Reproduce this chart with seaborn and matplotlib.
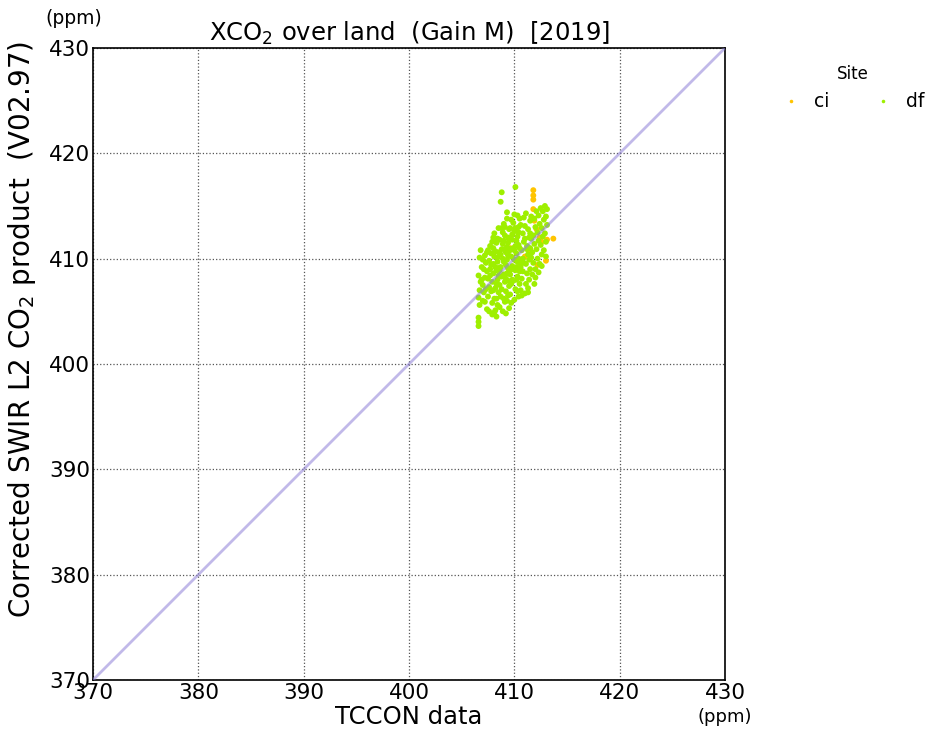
import matplotlib
matplotlib.use("Agg")
import matplotlib.pyplot as plt
import seaborn as sns
import pandas as pd

# ---------------- data ----------------
sites = ["ci", "df"]
site_colors = ["#ffc400", "#9eef00"]

ci_x = [411.8, 411.8, 411.8, 411.8, 411.9, 412.4, 413.1, 413.7, 413.0, 412.1,
        411.5, 412.2, 409.6, 411.0, 412.6]
ci_y = [416.5, 416.0, 415.6, 414.7, 413.6, 412.0, 411.8, 411.9, 409.8, 412.8,
        410.8, 409.4, 411.0, 410.2, 411.6]

df_x = [
    406.6, 406.6, 406.6, 406.7, 406.6, 406.7, 406.8, 406.6, 406.9, 406.7,
    406.8, 407.0, 407.1, 407.0, 407.2, 407.1, 407.3, 407.2, 407.4, 407.3,
    407.4, 407.0, 407.4, 406.9, 407.2,
    407.5, 407.6, 407.5, 407.7, 407.6, 407.8, 407.7, 407.9, 407.8, 407.9,
    408.0, 408.0, 408.1, 408.0, 408.2, 408.1, 408.2, 408.3, 408.2, 408.4,
    408.3, 408.4, 408.5, 408.3, 408.5, 408.4, 408.5, 407.6, 407.9, 408.1,
    407.7, 407.8, 408.0, 408.2, 408.4, 407.5, 408.1, 408.3, 408.5, 408.0,
    407.9, 408.2, 408.4, 408.5, 408.3,
    408.6, 408.7, 408.6, 408.8, 408.7, 408.9, 408.8, 409.0, 408.9, 409.0,
    408.7, 408.8, 409.1, 409.2, 409.1, 409.3, 409.2, 409.4, 409.3, 409.4,
    409.5, 409.3, 409.5, 409.4, 409.5, 408.6, 408.8, 409.0, 409.2, 409.4,
    408.9, 409.1, 409.3, 409.5, 408.7, 409.0, 409.2, 409.4, 408.6, 409.1,
    409.3, 409.5, 408.9, 409.2, 409.0, 409.4, 408.8, 409.5, 409.1, 409.3,
    409.6, 409.7, 409.6, 409.8, 409.7, 409.9, 409.8, 410.0, 409.9, 410.0,
    410.1, 410.1, 410.2, 410.1, 410.3, 410.2, 410.4, 410.3, 410.4, 410.5,
    410.4, 410.5, 410.5, 409.6, 409.8, 410.0, 410.2, 410.4, 409.7, 410.0,
    409.9, 410.3, 410.1, 410.3, 409.6, 410.5, 410.0, 410.2, 409.8, 410.4,
    410.5, 409.7, 409.9, 410.1, 410.3,
    410.6, 410.7, 410.6, 410.8, 410.7, 410.9, 410.8, 411.0, 410.9, 411.1,
    411.2, 411.1, 411.3, 411.2, 411.4, 411.3, 411.5, 411.4, 411.5, 411.6,
    411.5, 411.6, 410.7, 411.0, 411.3, 410.6, 410.9, 411.2, 411.5, 411.0,
    411.4, 410.8, 411.6, 411.1, 411.3,
    411.7, 411.8, 411.7, 411.9, 411.8, 412.0, 411.9, 412.1, 412.0, 412.2,
    412.1, 412.3, 412.2, 412.4, 412.3, 412.5, 412.4, 412.6, 412.5, 412.7,
    412.6, 412.8, 412.7, 412.9, 412.8, 413.0, 412.9, 413.1, 413.0, 413.1,
    412.0, 412.3, 411.9, 412.6, 413.0,
]
df_y = [
    403.6, 404.0, 404.4, 405.6, 406.3, 407.0, 407.8, 408.4, 409.2, 410.1,
    410.8, 406.0, 406.8, 407.5, 408.2, 409.0, 409.6, 410.3, 405.2, 407.1,
    408.8, 409.9, 410.6, 408.0, 405.9,
    406.4, 407.3, 408.1, 409.0, 409.8, 410.5, 411.2, 405.8, 406.9, 407.8,
    408.6, 409.5, 410.2, 411.0, 411.8, 412.4, 405.1, 406.2, 407.2, 408.0,
    408.9, 409.7, 410.6, 411.5, 412.9, 405.6, 406.8, 405.0, 404.7, 404.9,
    408.4, 409.4, 407.0, 409.2, 410.1, 410.8, 406.2, 407.6, 408.4, 412.0,
    411.6, 410.7, 411.9, 409.1, 404.5,
    405.4, 406.4, 407.5, 408.3, 409.2, 410.0, 410.9, 411.7, 412.5, 413.3,
    415.4, 416.3, 405.9, 406.9, 407.8, 408.6, 409.4, 410.3, 411.1, 412.0,
    412.8, 413.8, 405.3, 406.5, 407.4, 408.9, 407.1, 409.7, 410.6, 411.5,
    411.4, 412.2, 409.9, 408.8, 410.4, 406.2, 408.1, 409.1, 411.8, 413.0,
    414.4, 410.7, 405.0, 404.8, 408.5, 407.9, 412.9, 411.9, 410.9, 406.0,
    406.6, 407.6, 408.5, 409.3, 410.2, 411.0, 411.8, 412.6, 413.4, 414.2,
    416.8, 407.1, 408.0, 408.9, 409.7, 410.5, 411.3, 412.1, 413.0, 413.8,
    406.4, 407.6, 408.8, 410.9, 412.3, 409.9, 411.7, 410.0, 405.8, 406.1,
    407.9, 406.9, 412.9, 414.1, 412.9, 409.6, 410.8, 409.2, 408.0, 412.5,
    411.0, 413.7, 409.0, 411.2, 408.3,
    407.0, 408.1, 409.2, 410.0, 410.8, 411.6, 412.4, 413.1, 413.9, 407.6,
    408.6, 409.5, 410.4, 411.2, 412.0, 412.8, 413.6, 408.0, 409.0, 410.1,
    411.0, 411.9, 406.5, 406.7, 407.2, 413.2, 409.6, 410.9, 412.4, 411.9,
    409.9, 408.8, 414.0, 414.3, 406.8,
    408.5, 409.6, 410.6, 411.4, 412.2, 413.0, 413.8, 414.5, 409.0, 410.0,
    410.9, 411.7, 412.5, 413.3, 414.1, 414.8, 409.5, 410.4, 411.3, 412.1,
    412.9, 413.7, 414.5, 415.0, 410.8, 411.6, 412.4, 413.2, 414.0, 414.7,
    408.2, 408.7, 407.6, 409.3, 410.2,
]

one_to_one = [370, 430]
ticks = [370, 380, 390, 400, 410, 420, 430]

# ---------------- figure ----------------
sns.set_style("white")
plt.rcParams["font.family"] = ["DejaVu Sans"]
plt.rcParams["text.color"] = "black"
plt.rcParams["axes.labelcolor"] = "black"

df = pd.DataFrame({
    "x": ci_x + df_x,
    "y": ci_y + df_y,
    "Site": ["ci"] * len(ci_x) + ["df"] * len(df_x),
})

fig = plt.figure(figsize=(9.3, 7.38), dpi=100)
ax = fig.add_axes([0.1, 0.0786, 0.6796, 0.8564])

sns.scatterplot(data=df, x="x", y="y", hue="Site", hue_order=sites,
                palette=site_colors, s=18, linewidth=0, ax=ax, zorder=3)
sns.lineplot(x=one_to_one, y=one_to_one, color="#8f80d8", alpha=0.55,
             linewidth=2, ax=ax, zorder=4)

ax.set_xlim(370, 430)
ax.set_ylim(370, 430)
ax.set_xticks(ticks)
ax.set_yticks(ticks)
ax.tick_params(axis="both", length=0, labelsize=15.5, pad=2, colors="black")
ax.grid(True, color="#555555", linestyle=":", linewidth=0.9)
ax.set_axisbelow(True)
for sp in ax.spines.values():
    sp.set_color("black")
    sp.set_linewidth(1.2)

ax.set_xlabel("TCCON data", fontsize=17.5, color="black")
ax.xaxis.set_label_coords(0.5, -0.040)
ax.set_ylabel("Corrected SWIR L2 CO$_2$ product  (V02.97)", fontsize=20,
              color="black")
ax.yaxis.set_label_coords(-0.087, 0.555)
ax.set_title("XCO$_2$ over land  (Gain M)  [2019]", fontsize=17.5, pad=5,
             color="black")

fig.text(74 / 930, 1 - 18 / 738, "(ppm)", fontsize=13.5, ha="center", va="center")
fig.text(725 / 930, 1 - 717 / 738, "(ppm)", fontsize=13, ha="center", va="center")

leg = ax.legend(title="Site", loc="upper left", bbox_to_anchor=(1.063, 1.0),
                ncol=2, frameon=False, fontsize=13.5, title_fontsize=12,
                markerscale=0.6, columnspacing=2.4, handlelength=1.0,
                handletextpad=0.7)

fig.savefig("out.png", dpi=100)
